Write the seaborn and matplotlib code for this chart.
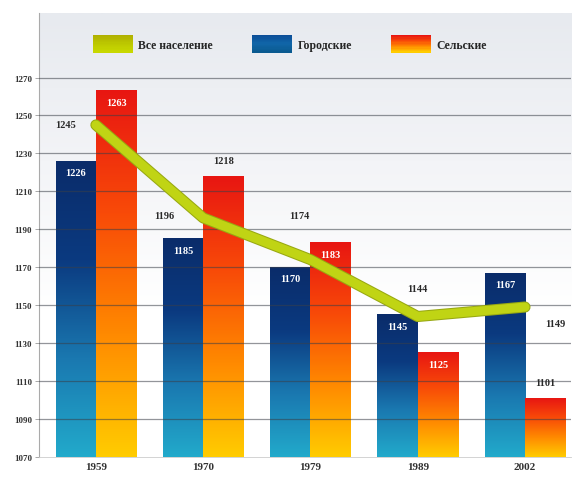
import numpy as np
import pandas as pd
import matplotlib
matplotlib.use("Agg")
import matplotlib.pyplot as plt
import seaborn as sns
from matplotlib.colors import LinearSegmentedColormap
from matplotlib.patches import Rectangle
from matplotlib.legend_handler import HandlerBase
import matplotlib.patheffects as pe

years = ["1959", "1970", "1979", "1989", "2002"]
urban = [1226, 1185, 1170, 1145, 1167]
rural = [1263, 1218, 1183, 1125, 1101]
total = [1245, 1196, 1174, 1144, 1149]
series_names = ["Все население", "Городские", "Сельские"]
yticks = [1070, 1090, 1110, 1130, 1150, 1170, 1190, 1210, 1230, 1250, 1270]

sns.set_theme(style="white")
plt.rcParams['font.family'] = ['Liberation Serif', 'DejaVu Serif']

cm_urban = LinearSegmentedColormap.from_list("u", ["#22aacb", "#1a78b0", "#0b3a80", "#0a2c6a"])
cm_rural = LinearSegmentedColormap.from_list("r", ["#ffcc00", "#ff8a00", "#f84a08", "#e81612"])
cm_total = LinearSegmentedColormap.from_list("t", ["#c8d800", "#bcc800", "#b0b000"])
cm_leg_urban = LinearSegmentedColormap.from_list("lu", ["#0a5a90", "#1066a8", "#0c4e98"])

fig = plt.figure(figsize=(5.74, 4.85), dpi=100)
ax = fig.add_axes([0.068, 0.056, 0.927, 0.915])

df = pd.DataFrame({
    "year": years * 2,
    "value": urban + rural,
    "group": [series_names[1]] * 5 + [series_names[2]] * 5,
})
sns.barplot(data=df, x="year", y="value", hue="group", order=years,
            hue_order=series_names[1:], width=0.75, gap=0.0,
            palette=["#1560a0", "#f03010"], errorbar=None, legend=False, ax=ax, zorder=2)

ymin, ymax = 1070, 1304
xlim = (-0.53, 4.43)

# gradient fill bars
grad = np.linspace(0, 1, 256).reshape(-1, 1)
patches = list(ax.patches)
for i, p in enumerate(patches):
    cmap = cm_urban if i < 5 else cm_rural
    x0, w, h = p.get_x(), p.get_width(), p.get_height()
    ax.imshow(grad, extent=[x0, x0 + w, ymin, h], origin="lower", cmap=cmap,
              aspect="auto", zorder=2.1, interpolation="bilinear")
    p.set_alpha(0)

# background gradient
bg = np.linspace(0, 1, 256).reshape(-1, 1)
bg_cmap = LinearSegmentedColormap.from_list("bg", ["#ffffff", "#ffffff", "#f3f4f7", "#e7eaef"])
ax.imshow(bg, extent=[xlim[0], xlim[1], ymin, ymax], origin="lower", cmap=bg_cmap,
          aspect="auto", zorder=0)

# horizontal grid lines on top of bars
for t in yticks[1:]:
    ax.axhline(t, color="#3a3f48", lw=0.9, alpha=0.55, zorder=3)

# total line
df_t = pd.DataFrame({"year": years, "value": total})
sns.pointplot(data=df_t, x="year", y="value", order=years, color="#c0d414",
              markers="", linewidth=6.5, errorbar=None, ax=ax, zorder=4)
for ln in ax.lines:
    if len(ln.get_xdata()) == 5:
        ln.set_path_effects([pe.Stroke(linewidth=8, foreground="#98a812"), pe.Normal()])
        ln.set_solid_capstyle("round")
        ln.set_solid_joinstyle("round")
        ln.set_zorder(4)

# line labels
tot_offsets = [(-22, 0), (-28, 2), (-8, 32), (0, 20), (22, -12)]
for i, (v, off) in enumerate(zip(total, tot_offsets)):
    ax.annotate(str(v), (i, v), xytext=off, textcoords="offset points",
                ha="center", va="center", fontsize=7.5, fontweight="bold",
                color="#2a2a2a", zorder=6)

# bar labels
inside_u = [True] * 5
inside_r = [True, False, True, True, False]
for i, p in enumerate(patches):
    vals = urban if i < 5 else rural
    inside = (inside_u if i < 5 else inside_r)[i % 5]
    v = vals[i % 5]
    cx = p.get_x() + p.get_width() / 2
    if inside:
        ax.annotate(str(v), (cx, v), xytext=(0, -8.5), textcoords="offset points",
                    ha="center", va="center", fontsize=7.5, fontweight="bold",
                    color="white", zorder=6)
    else:
        ax.annotate(str(v), (cx, v), xytext=(0, 11), textcoords="offset points",
                    ha="center", va="center", fontsize=7.5, fontweight="bold",
                    color="#2a2a2a", zorder=6)

ax.set_xlim(*xlim)
ax.set_ylim(ymin, ymax)
ax.set_yticks(yticks)
ax.set_yticklabels([str(t) for t in yticks], fontsize=6.5, fontweight="bold", color="#333333")
ax.set_xticks(range(len(years)))
ax.set_xticklabels(years, fontsize=8, fontweight="bold", color="#333333")
ax.set_xlabel("")
ax.set_ylabel("")
ax.tick_params(axis="y", length=3, width=0.6, color="#999999", pad=2, left=True)
ax.tick_params(axis="x", length=0, pad=4)
for s in ["top", "right"]:
    ax.spines[s].set_visible(False)
ax.spines["left"].set_color("#aaaaaa")
ax.spines["left"].set_linewidth(0.8)
ax.spines["bottom"].set_color("#cccccc")
ax.spines["bottom"].set_linewidth(0.6)


class GradHandler(HandlerBase):
    def __init__(self, cmap):
        super().__init__()
        self.cmap = cmap

    def create_artists(self, legend, orig_handle, xdescent, ydescent, width, height, fontsize, trans):
        n = 14
        arts = []
        for k in range(n):
            c = self.cmap(1 - k / (n - 1))
            r = Rectangle((-xdescent, -ydescent + height * (1 - (k + 1) / n)), width, height / n + 0.3,
                          facecolor=c, edgecolor="none", transform=trans)
            arts.append(r)
        return arts


h_total = Rectangle((0, 0), 1, 1)
h_urb = Rectangle((0, 0), 1, 1)
h_rur = Rectangle((0, 0), 1, 1)
ax.legend([h_total, h_urb, h_rur], series_names,
          handler_map={h_total: GradHandler(cm_total), h_urb: GradHandler(cm_leg_urban),
                       h_rur: GradHandler(cm_rural)},
          loc="center left", bbox_to_anchor=(0.101, 0.93), ncol=3, frameon=False,
          borderpad=0, borderaxespad=0,
          handlelength=3.4, handleheight=1.9, columnspacing=3.3, handletextpad=0.45,
          prop={"size": 8.5, "weight": "bold"})

fig.savefig("out.png", dpi=100)
